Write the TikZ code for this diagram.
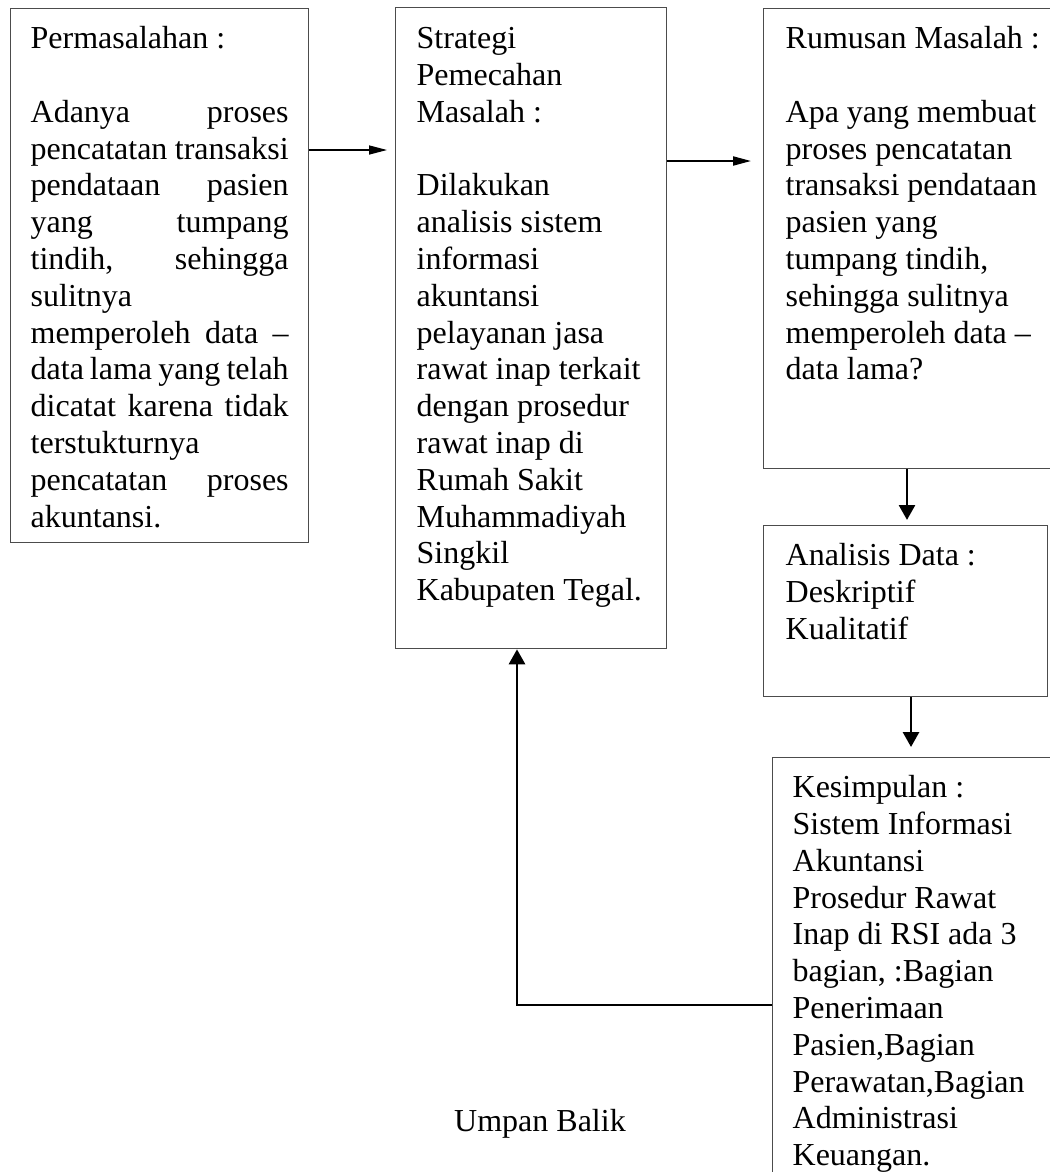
\documentclass[tikz,border=0pt]{standalone}
\usepackage{fontspec}
\setmainfont{Liberation Serif}
\usepackage{tikz}
\usetikzlibrary{arrows.meta}

% baris rata kiri-kanan
\newcommand{\rata}[1]{\leavevmode\hbox to \hsize{#1}}

\begin{document}
\begin{tikzpicture}[
  x=0.375pt, y=-0.375pt,
  >={Triangle[length=6.75pt, width=3.4pt]},
  base/.style={draw=black!70, line width=0.5pt, anchor=north west, align=left,
    inner ysep=0pt, text height=15pt, font=\fontsize{12pt}{13.8pt}\selectfont,
    execute at begin node={\spaceskip=0pt\xspaceskip=0pt}},
  tipis/.style={->, line width=0.45pt},
  tebal/.style={-{Triangle[length=5.6pt, width=6pt]}, line width=1pt},
]
  \useasboundingbox (0,0) rectangle (1050,1172);
  \clip (0,0) rectangle (1050,1172);

  \node[base, inner xsep=7.5pt, text width=96.75pt, text depth=185.25pt] (masalah) at (10,8)
    {Permasalahan :\\[13.8pt]
     \rata{Adanya\hfill proses}\\
     \rata{pencatatan\hfill transaksi}\\
     \rata{pendataan\hfill pasien}\\
     \rata{yang\hfill tumpang}\\
     \rata{tindih,\hfill sehingga}\\
     sulitnya\\
     \rata{memperoleh\hfill data\hfill –}\\
     \rata{data\hfill lama\hfill yang\hfill telah}\\
     \rata{dicatat\hfill karena\hfill tidak}\\
     terstukturnya\\
     \rata{pencatatan\hfill proses}\\
     akuntansi.};
  \node[base, inner xsep=7.875pt, text width=85.875pt, text height=15.375pt, text depth=225pt] (strategi) at (395,7)
    {Strategi\\ Pemecahan\\ Masalah :\\[13.8pt]
     Dilakukan\\ analisis sistem\\ informasi\\ akuntansi\\ pelayanan jasa\\
     \mbox{rawat inap terkait}\\ dengan prosedur\\ rawat inap di\\ Rumah Sakit\\
     Muhammadiyah\\ Singkil\\ Kabupaten Tegal.};
  \node[base, inner xsep=8.25pt, text width=97.5pt, text depth=157.5pt] (rumusan) at (763,8)
    {Rumusan Masalah :\\[13.8pt]
     Apa yang membuat\\ proses pencatatan\\ transaksi pendataan\\ pasien yang\\
     tumpang tindih,\\ sehingga sulitnya\\ memperoleh data –\\ data lama?};
  \node[base, inner xsep=8.25pt, text width=90pt, text depth=49.125pt] (analisis) at (763,525)
    {Analisis Data :\\ Deskriptif\\ Kualitatif};
  \node[base, inner xsep=7.5pt, text width=97.5pt, text depth=168.75pt] (kesimpulan) at (772,757)
    {Kesimpulan :\\ Sistem Informasi\\ Akuntansi\\ Prosedur Rawat\\ Inap di RSI ada 3\\
     bagian, :Bagian\\ Penerimaan\\ Pasien,Bagian\\ Perawatan,Bagian\\ Administrasi\\ Keuangan.};
  \node[anchor=base, font=\fontsize{12pt}{13.8pt}\selectfont] (umpan) at (540,1131) {Umpan Balik};

  \draw[tipis, shorten >=3pt] (masalah.east |- 0,150) -- (strategi.west |- 0,150);
  \draw[tipis, line width=0.7pt, shorten >=4.5pt] (strategi.east |- 0,161) -- (rumusan.west |- 0,161);
  \draw[tebal, shorten >=1.9pt] (rumusan.south -| 907,0) -- (analisis.north -| 907,0);
  \draw[tebal, shorten >=3.75pt] (analisis.south -| 911,0) -- (kesimpulan.north -| 911,0);
  \draw[tebal] (kesimpulan.west |- 0,1005) -| (strategi.south -| 517,0);
\end{tikzpicture}
\end{document}
